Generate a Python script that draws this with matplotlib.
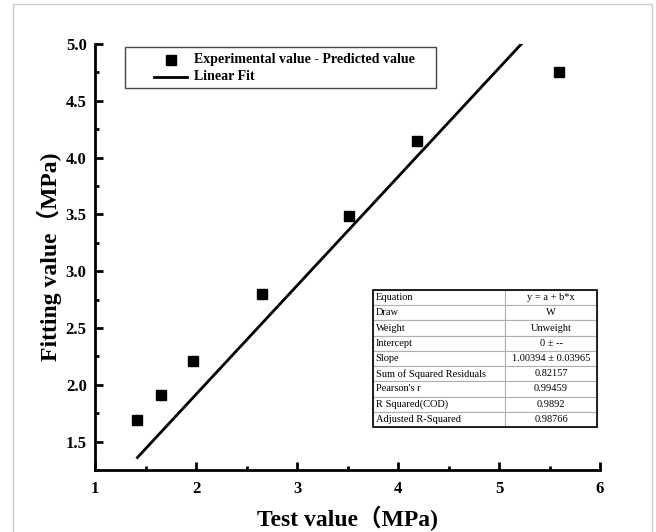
import numpy as np
import matplotlib
matplotlib.use("Agg")
import matplotlib.pyplot as plt
from matplotlib.patches import Rectangle
from matplotlib.lines import Line2D
from matplotlib.ticker import MultipleLocator

plt.rcParams["font.family"] = ["Liberation Serif", "Noto Sans CJK SC"]

# Measured vs. predicted strength (MPa)
test_value = [1.42, 1.65, 1.97, 2.65, 3.51, 4.19, 5.59]
fitting_value = [1.69, 1.91, 2.21, 2.80, 3.49, 4.15, 4.75]

x_ticks = [1, 2, 3, 4, 5, 6]
y_ticks = [1.5, 2.0, 2.5, 3.0, 3.5, 4.0, 4.5, 5.0]

legend_labels = ["Experimental value - Predicted value", "Linear Fit"]

stats_names = ["Equation", "Draw", "Weight", "Intercept", "Slope",
               "Sum of Squared Residuals", "Pearson's r",
               "R Squared(COD)", "Adjusted R-Squared"]
stats_values = ["y = a + b*x", "W", "Unweight", "0 \u00b1 --",
                "1.00394 \u00b1 0.03965", "0.82157", "0.99459",
                "0.9892", "0.98766"]

W, H = 656, 532
fig = plt.figure(figsize=(W / 100, H / 100), dpi=100)


def fp(px, py):
    """pixel position (from top-left) -> figure fraction"""
    return px / W, 1 - py / H


ax = fig.add_axes([95 / W, 1 - 470 / H, 505 / W, 426 / H])

x = np.array(test_value)
y = np.array(fitting_value)

# least-squares line through the origin
slope = np.sum(x * y) / np.sum(x * x)
xf = np.array([x.min(), x.max()])
ax.plot(xf, slope * xf, color="black", lw=2, zorder=2)
ax.plot(x, y, ls="none", marker="s", ms=7, color="black", zorder=3)

ax.set_xlim(1, 6)
ax.set_ylim(1.25, 5.0)
ax.set_xticks(x_ticks)
ax.set_yticks(y_ticks)
ax.set_xticklabels([str(t) for t in x_ticks])
ax.set_yticklabels([f"{t:.1f}" for t in y_ticks])
ax.xaxis.set_minor_locator(MultipleLocator(0.5))
ax.yaxis.set_minor_locator(MultipleLocator(0.25))

for s in ["top", "right"]:
    ax.spines[s].set_visible(False)
for s in ["left", "bottom"]:
    ax.spines[s].set_linewidth(2)

ax.tick_params(which="major", direction="in", length=6, width=2,
               labelsize=12)
ax.tick_params(axis="y", which="major", pad=6)
ax.tick_params(axis="x", which="major", pad=8)
ax.tick_params(which="minor", direction="in", length=3, width=2)
for lbl in ax.get_xticklabels() + ax.get_yticklabels():
    lbl.set_fontweight("bold")

ax.set_xlabel("Test value\uff08MPa)", fontsize=17, fontweight="bold",
              labelpad=6)
ax.set_ylabel("Fitting value\uff08MPa)", fontsize=17, fontweight="bold",
              labelpad=3)

# legend box
x0, y0 = fp(125, 88)
x1, y1 = fp(436, 47)
fig.add_artist(Rectangle((x0, y0), x1 - x0, y1 - y0,
                         transform=fig.transFigure, fill=False,
                         edgecolor="#444444", lw=1.0))
mx, my = fp(171, 60)
fig.add_artist(Line2D([mx], [my], ls="none", marker="s", ms=7,
                      color="black", transform=fig.transFigure))
lx0, ly = fp(154, 77)
lx1, _ = fp(187, 77)
fig.add_artist(Line2D([lx0, lx1], [ly, ly], color="black", lw=2,
                      transform=fig.transFigure))
tx, _ = fp(194, 0)
fig.text(tx, my, legend_labels[0], fontsize=10, fontweight="bold",
         ha="left", va="center")
fig.text(tx, ly, legend_labels[1], fontsize=10, fontweight="bold",
         ha="left", va="center")

# fit statistics table
tb_left, tb_right, tb_top, tb_bot = 373, 597, 290, 427
bbox = [(tb_left - 95) / 505, (470 - tb_bot) / 426,
        (tb_right - tb_left) / 505, (tb_bot - tb_top) / 426]
tbl = ax.table(cellText=[[a, b] for a, b in zip(stats_names, stats_values)],
               colWidths=[0.59, 0.41], bbox=bbox, zorder=5)
tbl.auto_set_font_size(False)
for (r, c), cell in tbl.get_celld().items():
    cell.set_edgecolor("#b0b0b0")
    cell.set_linewidth(0.8)
    cell.get_text().set_fontsize(7.5)
    if c == 0:
        cell.get_text().set_ha("left")
        cell.PAD = 0.02
    else:
        cell.get_text().set_ha("center")
ax.add_patch(Rectangle((bbox[0], bbox[1]), bbox[2], bbox[3],
                       transform=ax.transAxes, fill=False,
                       edgecolor="black", lw=1.2, zorder=6))

# light frame around the figure
fig.patches.append(Rectangle((13 / W, -0.05), (652 - 13) / W, 1.05 - 4 / H,
                             transform=fig.transFigure, fill=False,
                             edgecolor="#cccccc", lw=1))

fig.savefig("out.png", dpi=100)
